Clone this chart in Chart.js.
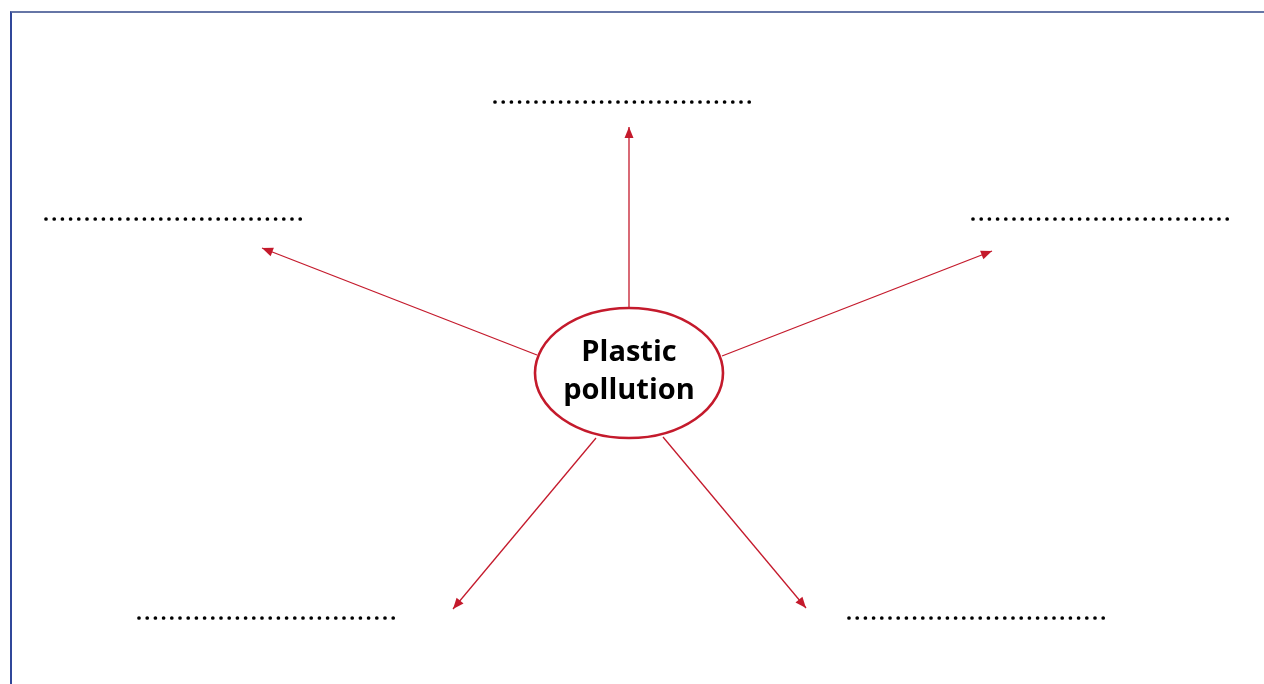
<!DOCTYPE html>
<html>
<head>
<meta charset="utf-8">
<script src="https://cdn.jsdelivr.net/npm/chart.js@4"></script>
<style>
  html, body { margin: 0; padding: 0; background: #fff; overflow: hidden; }
  #wrap { position: relative; width: 1264px; height: 684px; }
  #frame {
    position: absolute; left: 10px; top: 11px; right: 0; bottom: 0;
    border-top: 2px solid #6676a6; border-left: 2px solid #30479a;
    pointer-events: none;
  }
</style>
</head>
<body>
<div id="wrap">
  <canvas id="mindMap"></canvas>
  <div id="frame"></div>
</div>
<script>
const ctx = document.getElementById('mindMap').getContext('2d');

// centre bubble (data units = page pixels)
const centreText = ['Plastic', 'pollution'];
const centrePoint = { x: 629, y: 373 };
const centreRadius = { x: 94, y: 65 };

// arrows: start on the ellipse, end at the arrow tip
const arrowStarts = [[629, 307], [537, 355], [722, 356], [596, 438], [663, 437]];
const arrowEnds = [[629, 127], [262, 248], [992, 251], [453, 609], [806, 608]];

// dotted answer lines: [xStart, xEnd, y]
const blankLines = [[495, 750, 102], [46, 302, 219], [973, 1228, 219], [139, 396, 618], [849, 1106, 618]];

const red = '#c41a2c';

const datasets = [];
arrowStarts.forEach((s, i) => {
    datasets.push({
        data: [{ x: s[0], y: s[1] }, { x: arrowEnds[i][0], y: arrowEnds[i][1] }],
        borderColor: red,
        borderWidth: 1.3,
        pointRadius: 0,
        showLine: true,
        isArrow: true
    });
});
blankLines.forEach(b => {
    datasets.push({
        data: [{ x: b[0], y: b[2] }, { x: b[1], y: b[2] }],
        borderColor: '#000',
        borderWidth: 3.7,
        borderDash: [0, 8.2],
        borderCapStyle: 'round',
        pointRadius: 0,
        showLine: true
    });
});

const bubblePlugin = {
    id: 'bubble',
    afterDatasetsDraw(chart) {
        const c = chart.ctx;
        const xs = chart.scales.x, ys = chart.scales.y;

        // arrow heads
        chart.data.datasets.forEach(ds => {
            if (!ds.isArrow) return;
            const a = ds.data[0], b = ds.data[1];
            const x1 = xs.getPixelForValue(a.x), y1 = ys.getPixelForValue(a.y);
            const x2 = xs.getPixelForValue(b.x), y2 = ys.getPixelForValue(b.y);
            const ang = Math.atan2(y2 - y1, x2 - x1);
            const len = 11, half = 4.5;
            c.save();
            c.fillStyle = red;
            c.beginPath();
            c.moveTo(x2, y2);
            c.lineTo(x2 - len * Math.cos(ang) + half * Math.sin(ang), y2 - len * Math.sin(ang) - half * Math.cos(ang));
            c.lineTo(x2 - len * Math.cos(ang) - half * Math.sin(ang), y2 - len * Math.sin(ang) + half * Math.cos(ang));
            c.closePath();
            c.fill();
            c.restore();
        });

        // centre ellipse
        const cx = xs.getPixelForValue(centrePoint.x);
        const cy = ys.getPixelForValue(centrePoint.y);
        const rx = xs.getPixelForValue(centrePoint.x + centreRadius.x) - cx;
        const ry = ys.getPixelForValue(centrePoint.y + centreRadius.y) - cy;
        c.save();
        c.beginPath();
        c.ellipse(cx, cy, Math.abs(rx), Math.abs(ry), 0, 0, Math.PI * 2);
        c.fillStyle = '#fff';
        c.fill();
        c.lineWidth = 2.6;
        c.strokeStyle = red;
        c.stroke();

        c.fillStyle = '#000';
        c.font = 'bold 29px "Open Sans", sans-serif';
        c.textAlign = 'center';
        c.textBaseline = 'middle';
        c.fillText(centreText[0], cx, cy - 20);
        c.fillText(centreText[1], cx, cy + 18);
        c.restore();
    }
};

const config = {
    type: 'scatter',
    data: { datasets: datasets },
    options: {
        responsive: true,
        maintainAspectRatio: false,
        animation: false,
        layout: { padding: 0 },
        scales: {
            x: { type: 'linear', min: 0, max: 1264, display: false },
            y: { type: 'linear', min: 0, max: 684, reverse: true, display: false }
        },
        plugins: {
            legend: { display: false },
            tooltip: { enabled: false }
        }
    },
    plugins: [bubblePlugin]
};

const mindMap = new Chart(ctx, config);
</script>
</body>
</html>
